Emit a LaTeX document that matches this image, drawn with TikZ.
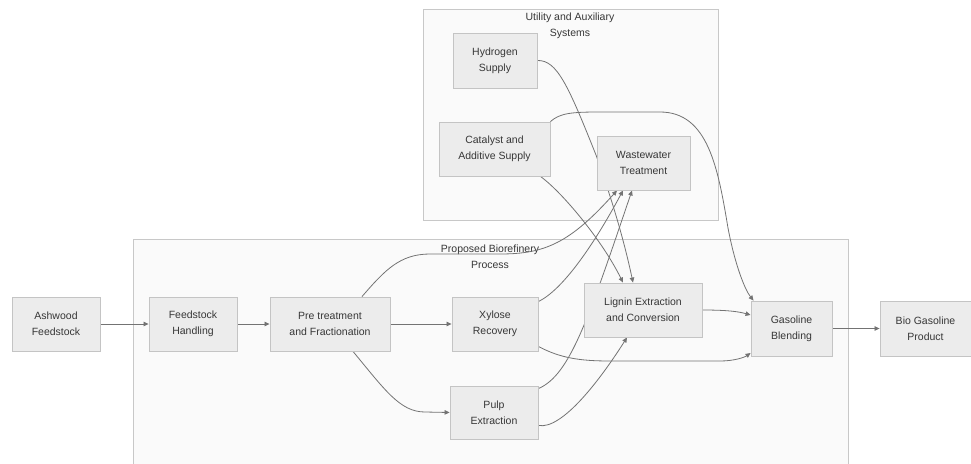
\documentclass[tikz,border=0pt]{standalone}
\usepackage{fontspec}
\setmainfont{Liberation Sans}
\usetikzlibrary{arrows.meta,calc}
\definecolor{nodefill}{RGB}{236,236,236}
\definecolor{nodeline}{RGB}{196,196,196}
\definecolor{clfill}{RGB}{250,250,250}
\definecolor{clline}{RGB}{200,200,200}
\definecolor{edgecol}{RGB}{115,115,115}
\definecolor{txt}{RGB}{55,55,55}
\pgfdeclarelayer{bg}
\pgfdeclarelayer{edges}
\pgfsetlayers{bg,edges,main}
\begin{document}
\begin{tikzpicture}[x=1pt,y=-1pt,
  box/.style={draw=nodeline, fill=nodefill, line width=0.9pt, minimum width=#1,
    minimum height=54pt, inner sep=0pt, align=center,
    font=\fontsize{10.5}{16}\selectfont, text=txt},
  cluster/.style={draw=clline, fill=clfill, line width=0.9pt, inner sep=0pt},
  cltext/.style={align=center, font=\fontsize{10.5}{16}\selectfont, text=txt, inner sep=0pt},
  flow/.style={draw=edgecol, line width=0.8pt, -{Triangle[length=5pt,width=4.5pt]}}]
\useasboundingbox (0,0) rectangle (971,463);
% nodes
\node[box=88pt] (ash) at (56,324) {Ashwood\\Feedstock};
\node[box=88pt] (fh) at (193,324) {Feedstock\\Handling};
\node[box=120pt] (pre) at (330,324) {Pre treatment\\and Fractionation};
\node[box=86pt] (xyl) at (495,324) {Xylose\\Recovery};
\node[box=88pt, minimum height=53pt] (pulp) at (494,412.5) {Pulp\\Extraction};
\node[box=118pt] (lig) at (643,310) {Lignin Extraction\\and Conversion};
\node[box=81pt, minimum height=55pt] (gas) at (791.5,328.5) {Gasoline\\Blending};
\node[box=91pt, minimum height=55pt] (bio) at (925.5,328.5) {Bio Gasoline\\Product};
\node[box=84pt, minimum height=55pt] (hyd) at (495,60.5) {Hydrogen\\Supply};
\node[box=111pt] (cat) at (494.5,149) {Catalyst and\\Additive Supply};
\node[box=93pt] (ww) at (643.5,163) {Wastewater\\Treatment};
% clusters
\begin{pgfonlayer}{bg}
\node[cluster, minimum width=295pt, minimum height=211pt] (util) at (570.5,114.5) {};
\node[cluster, minimum width=715pt, minimum height=240pt] (bioref) at (490.5,359) {};
\node[cltext] (utillabel) at (570,26) {Utility and Auxiliary\\Systems};
\node[cltext] (biolabel) at (490,257) {Proposed Biorefinery\\Process};
\end{pgfonlayer}
% edges
\begin{pgfonlayer}{edges}
\draw[flow] (ash.east) -- (fh.west);
\draw[flow] (fh.east) -- (pre.west);
\draw[flow] (pre.east) -- (xyl.west);
\draw[flow] ($(pre.south)+(23,0)$) .. controls (385,390) and (400,412) .. (425,412) -- (pulp.west);
\draw[flow] ($(pre.north)+(32,0)$) .. controls (385,270) and (400,254) .. (430,254) -- (500,254)
  .. controls (545,254) and (570,243) .. ($(ww.south)+(-26.5,0)$);
\draw[flow] ($(xyl.north east)+(0,5)$) .. controls (562,290) and (592,248) .. ($(ww.south)+(-20.5,0)$);
\draw[flow] ($(pulp.north east)+(0,3)$) .. controls (570,375) and (588,320) .. ($(ww.south)+(-11.5,0)$);
\draw[flow] (hyd.east) .. controls (557,60) and (568,85) .. (596,155)
  .. controls (614,205) and (625,245) .. ($(lig.north)+(-10,0)$);
\draw[flow] ($(cat.south east)+(-10,0)$) .. controls (562,192) and (602,240) .. ($(lig.north)+(-20,0)$);
\draw[flow] (cat.north east) .. controls (560,113) and (572,112) .. (600,112) -- (660,112)
  .. controls (708,112) and (718,168) .. (728,228) .. controls (735,265) and (745,290) .. ($(gas.north west)+(3,0)$);
\draw[flow] (lig.east) .. controls (730,310) and (740,312) .. ($(gas.west)+(0,-13.5)$);
\draw[flow] ($(xyl.south east)+(0,-5)$) .. controls (560,358) and (580,361) .. (610,361) -- (720,361)
  .. controls (735,361) and (745,357) .. ($(gas.west)+(0,24.5)$);
\draw[flow] ($(pulp.south east)+(0,-14)$) .. controls (562,430) and (600,380) .. ($(lig.south)+(-16,0)$);
\draw[flow] (gas.east) -- (bio.west);
\end{pgfonlayer}
\end{tikzpicture}
\end{document}
